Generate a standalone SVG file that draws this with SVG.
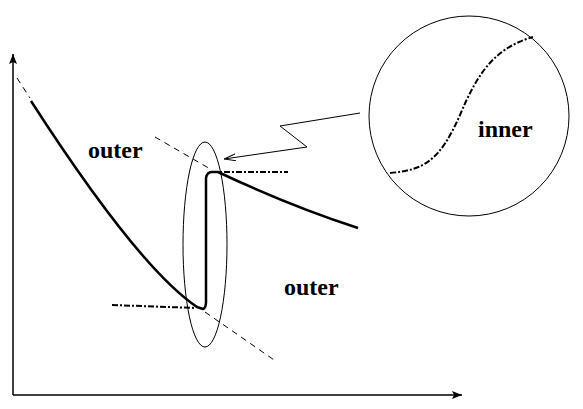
<svg xmlns="http://www.w3.org/2000/svg" width="583" height="409" viewBox="0 0 583 409">
<style>
.thin{fill:none;stroke:#000;stroke-width:1}
.axis{fill:none;stroke:#000;stroke-width:1.5}
.curve{fill:none;stroke:#000;stroke-width:2.5;stroke-linejoin:round}
.dash{fill:none;stroke:#000;stroke-width:1;stroke-dasharray:6 5}
.dashdot{fill:none;stroke:#000;stroke-width:2;stroke-dasharray:6 2 2 2}
.lbl{font-family:"Liberation Serif",serif;font-weight:bold;font-size:24px;fill:#000}
</style>
<defs>
<marker id="ah" viewBox="0 0 10 8" refX="10" refY="4" markerWidth="10" markerHeight="8" markerUnits="userSpaceOnUse" orient="auto">
<path d="M0,0 L10,4 L0,8 L2,4 Z" fill="#000"/>
</marker>
<marker id="open" viewBox="0 0 12 8" refX="12" refY="4" markerWidth="12" markerHeight="8" markerUnits="userSpaceOnUse" orient="auto">
<path d="M0,0.5 L12,4 L0,7.5" fill="none" stroke="#000" stroke-width="1"/>
</marker>
</defs>
<g id="axes">
<line class="axis" x1="13" y1="395" x2="13" y2="54" marker-end="url(#ah)"/>
<line class="axis" x1="13" y1="395" x2="462" y2="395" marker-end="url(#ah)"/>
</g>
<g id="outer-solution">
<line class="dash" x1="17" y1="78" x2="30" y2="98"/>
<path class="curve" d="M31,101 Q138,267 197,307 L203,309 Q206,308 206,302 L206,178 Q207,172 212,172 L218,172 Q290,206 358,228"/>
<line class="dash" x1="155" y1="137" x2="212" y2="170"/>
<line class="dash" x1="205" y1="312" x2="277" y2="362"/>
</g>
<g id="inner-asymptotes">
<line class="dashdot" x1="112" y1="305" x2="196" y2="308"/>
<line class="dashdot" x1="212" y1="172" x2="288" y2="172"/>
</g>
<g id="ellipse">
<ellipse class="thin" cx="205" cy="244.5" rx="22" ry="102.5"/>
</g>
<g id="zoom-circle">
<circle class="thin" cx="469" cy="116" r="100"/>
<path class="dashdot" d="M390,173 C425,170 440,160 460,115 C478,72 495,48 533,37"/>
</g>
<g id="connectors">
<polyline class="thin" points="360,113 280,126 307,147 224,159" marker-end="url(#open)"/>
</g>
<g id="labels">
<text class="lbl" x="88" y="158">outer</text>
<text class="lbl" x="284" y="295">outer</text>
<text class="lbl" x="478" y="137">inner</text>
</g>
</svg>
